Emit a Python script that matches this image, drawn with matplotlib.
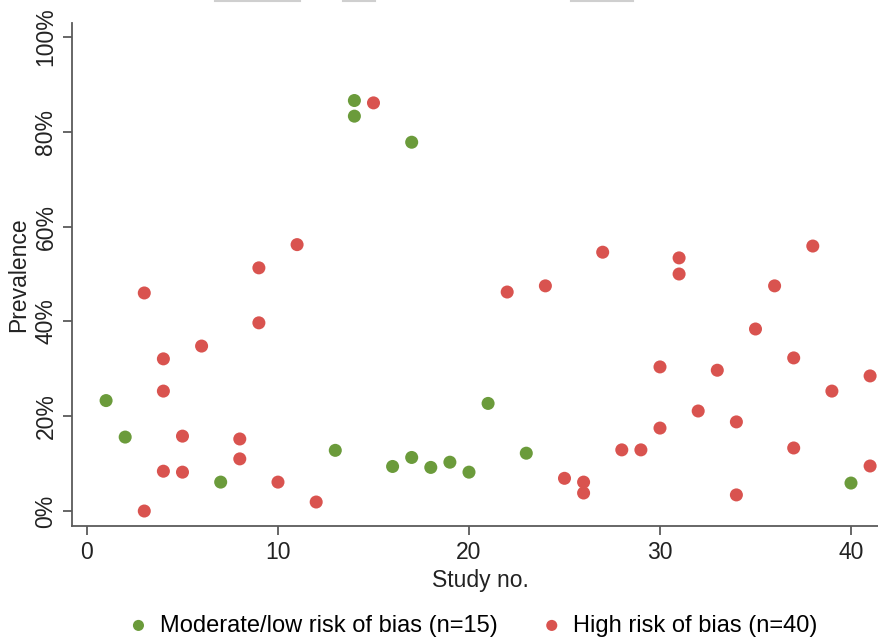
import numpy as np
import matplotlib
matplotlib.use("Agg")
import matplotlib.pyplot as plt
from matplotlib.lines import Line2D
from matplotlib.ticker import FuncFormatter

plt.rcParams['font.family'] = ['Liberation Sans', 'DejaVu Sans']

# moderate/low risk of bias studies (n=15)
low_x = [1, 2, 7, 13, 14, 14, 16, 17, 17, 18, 19, 20, 21, 23, 40]
low_y = [23.3, 15.6, 6.1, 12.8, 86.6, 83.3, 9.4, 77.8, 11.3, 9.2, 10.3, 8.2, 22.7, 12.2, 5.9]

# high risk of bias studies (n=40)
high_x = [3, 3, 4, 4, 4, 5, 5, 6, 8, 8, 9, 9, 10, 11, 12, 15, 22, 24, 25, 26,
          26, 27, 28, 29, 30, 30, 31, 31, 32, 33, 34, 34, 35, 36, 37, 37, 38, 39, 41, 41]
high_y = [46.0, 0.0, 32.1, 25.3, 8.4, 15.8, 8.2, 34.8, 15.2, 11.0, 51.3, 39.7, 6.1, 56.2, 1.9,
          86.1, 46.2, 47.5, 6.9, 6.1, 3.8, 54.6, 12.9, 12.9, 30.4, 17.5, 53.4, 50.0, 21.1, 29.7,
          18.8, 3.4, 38.4, 47.5, 32.3, 13.3, 55.9, 25.3, 28.5, 9.5]

green = '#6b9b3b'
red = '#d9534f'
axis_col = '#5a5a5a'

fig = plt.figure(figsize=(8.79, 6.41), dpi=100)
ax = fig.add_axes([0.0819, 0.1794, 0.9297, 0.7847])

ax.scatter(low_x, low_y, s=88, color=green, edgecolors='none', zorder=3,
           label='Moderate/low risk of bias (n=15)')
ax.scatter(high_x, high_y, s=88, color=red, edgecolors='none', zorder=3,
           label='High risk of bias (n=40)')

ax.set_xlim(-0.785, 42)
ax.set_ylim(-3.16, 102.95)
ax.set_xticks([0, 10, 20, 30, 40])
ax.set_yticks([0, 20, 40, 60, 80, 100])
ax.yaxis.set_major_formatter(FuncFormatter(lambda v, p: '%d%%' % v))

for s in ['top', 'right']:
    ax.spines[s].set_visible(False)
for s in ['left', 'bottom']:
    ax.spines[s].set_color(axis_col)
    ax.spines[s].set_linewidth(1.3)

ax.tick_params(axis='both', direction='out', length=6.5, width=1.3, color=axis_col,
               labelsize=16.5, labelcolor='#222222', pad=4)
for lab in ax.get_yticklabels():
    lab.set_rotation(90)
    lab.set_va('center')

ax.set_xlabel('Study no.', fontsize=16.5, color='#222222', labelpad=4)
ax.set_ylabel('Prevalence', fontsize=16.5, color='#222222', labelpad=3)

fig.legend(loc='center', bbox_to_anchor=(0.537, 0.024), ncol=2, frameon=False,
           fontsize=17, markerscale=0.85, handlelength=1.0, handletextpad=0.4,
           columnspacing=1.8)

# faint grey strokes along the top edge
for x0, x1 in [(215, 300), (343, 375), (571, 633)]:
    fig.add_artist(Line2D([x0 / 879, x1 / 879], [0.999, 0.999], transform=fig.transFigure,
                          color='#cfcfcf', lw=1.5))

fig.savefig('out.png', dpi=100)
